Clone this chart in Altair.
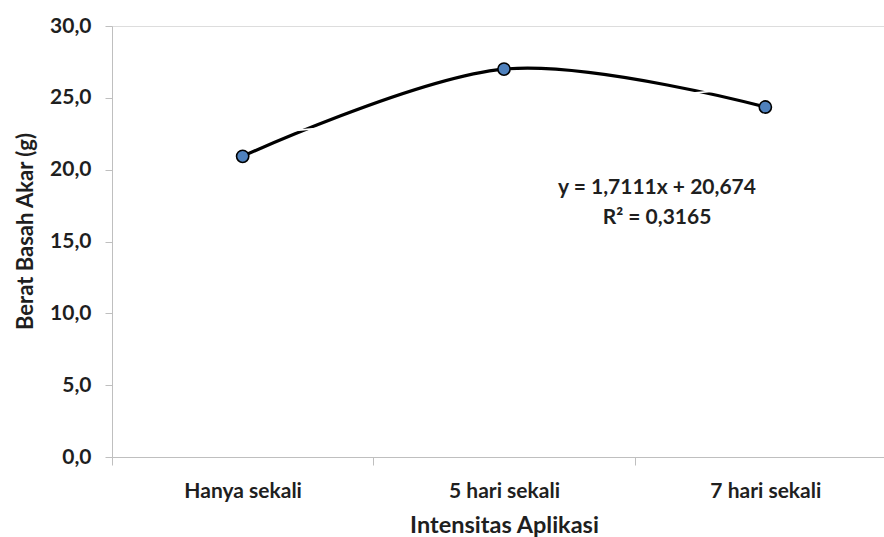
import altair as alt
import pandas as pd

# Berat basah akar per intensitas aplikasi
categories = ["Hanya sekali", "5 hari sekali", "7 hari sekali"]
weights = [20.93, 27.00, 24.36]

# Linear trend reported on the chart: y = 1,7111x + 20,674
trend_slope = 1.7111
trend_intercept = 20.674
equation_lines = ["y = 1,7111x + 20,674", "R² = 0,3165"]

y_ticks = [0, 5, 10, 15, 20, 25, 30]

FONT = "Lato"
WEIGHT = "bold"
INK = "#1f1f1f"
AXIS_GREY = "#bfbfbf"

df = pd.DataFrame({"kategori": categories, "berat": weights})
trend_df = pd.DataFrame({
    "kategori": categories,
    "trend": [trend_slope * (i + 1) + trend_intercept for i in range(len(categories))],
})

x_scale = alt.Scale(type="band", domain=categories, range=[0, 784],
                    paddingInner=0, paddingOuter=0)
y_scale = alt.Scale(domain=[0, 30], nice=False, zero=True)

x_enc = alt.X(
    "kategori:N", scale=x_scale, bandPosition=0.5, sort=categories,
    axis=alt.Axis(
        title="Intensitas Aplikasi", titleFont=FONT, titleFontSize=23.5,
        titleFontWeight=WEIGHT, titleColor=INK, titleX=392, titleY=68,
        titleBaseline="middle", titleAnchor="middle", titleAlign="center",
        labelFont=FONT, labelFontSize=21, labelFontWeight=WEIGHT,
        labelColor=INK, labelAngle=0, labelPadding=15, labelBaseline="top",
        domainColor=AXIS_GREY, tickColor=AXIS_GREY, tickSize=8,
        tickBand="extent", grid=False,
    ),
)

y_axis = alt.Axis(
    title="Berat Basah Akar (g)", titleFont=FONT, titleFontSize=22,
    titleFontWeight=WEIGHT, titleColor=INK, titleAngle=-90,
    titleX=-87, titleY=205, titleAlign="center", titleBaseline="middle",
    values=y_ticks,
    labelExpr="replace(format(datum.value, '.1f'), '.', ',')",
    labelFont=FONT, labelFontSize=21, labelFontWeight=WEIGHT,
    labelColor=INK, labelPadding=14,
    domainColor=AXIS_GREY, tickColor=AXIS_GREY, tickSize=7, grid=False,
)

curve = alt.Chart(df).mark_line(
    interpolate="cardinal", tension=0, color="black", strokeWidth=3.2
).encode(
    x=x_enc,
    y=alt.Y("berat:Q", scale=y_scale, axis=y_axis),
)

trend = alt.Chart(trend_df).mark_line(color="white", strokeWidth=1.6).encode(
    x=alt.X("kategori:N", scale=x_scale, bandPosition=0.5, sort=categories),
    y=alt.Y("trend:Q", scale=y_scale),
)

points = alt.Chart(df).mark_point(
    filled=True, fill="#4f81bd", stroke="black", strokeWidth=1.6,
    size=150, opacity=1, shape="circle",
).encode(
    x=alt.X("kategori:N", scale=x_scale, bandPosition=0.5, sort=categories),
    y=alt.Y("berat:Q", scale=y_scale),
)

equation = alt.Chart(pd.DataFrame({"t": [0]})).mark_text(
    font=FONT, fontSize=21, fontWeight=WEIGHT, color=INK,
    align="center", baseline="middle", lineHeight=30,
).encode(
    x=alt.value(545),
    y=alt.value(162),
    text=alt.value(equation_lines),
)

chart = alt.layer(curve, trend, points, equation).properties(
    width=772,
    height=431,
    autosize=alt.AutoSizeParams(type="none"),
    padding={"left": 112, "top": 26, "right": 0, "bottom": 80},
).configure_view(stroke=None).configure(background="white")

chart.save("out.html", embed_options={"renderer": "svg", "actions": False})
